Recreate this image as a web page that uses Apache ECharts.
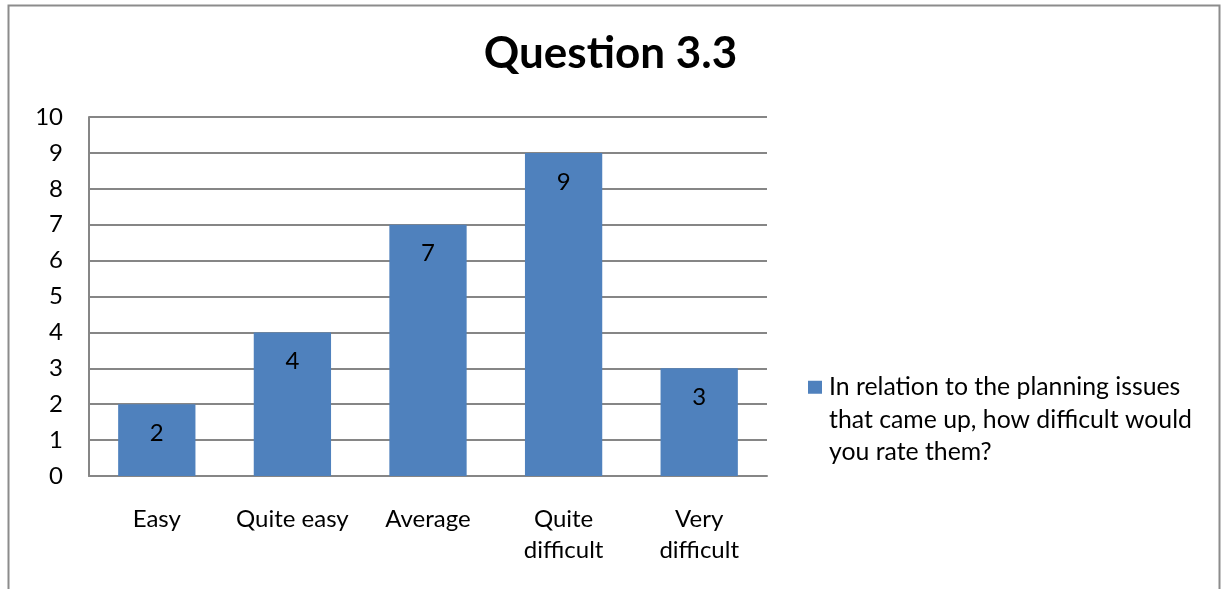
<!DOCTYPE html>
<html>
<head>
<meta charset="utf-8">
<script src="https://cdn.jsdelivr.net/npm/echarts@6/dist/echarts.min.js"></script>
<style>
  html, body { margin: 0; padding: 0; background: #fff; }
  #chart { width: 1221px; height: 589px; }
</style>
</head>
<body>
<div id="chart"></div>
<script>
const categories = ['Easy', 'Quite easy', 'Average', 'Quite\ndifficult', 'Very\ndifficult'];
const counts = [2, 4, 7, 9, 3];
const seriesName = 'In relation to the planning issues\nthat came up, how difficult would\nyou rate them?';
const titleText = 'Question 3.3';

const font = 'Lato, "Open Sans", sans-serif';
const chart = echarts.init(document.getElementById('chart'));

chart.setOption({
  animation: false,
  textStyle: { fontFamily: font },
  graphic: [
    {
      type: 'rect',
      shape: { x: 8.5, y: 5.5, width: 1211, height: 640 },
      style: { fill: 'none', stroke: '#8c8c8c', lineWidth: 2 },
      silent: true
    }
  ],
  title: {
    text: titleText,
    left: 'center',
    top: 27,
    textStyle: { fontFamily: font, fontSize: 44, fontWeight: 'bold', color: '#000' }
  },
  grid: { left: 89, right: 454, top: 117, bottom: 113 },
  legend: {
    orient: 'vertical',
    left: 808,
    top: 306,
    padding: 0,
    icon: 'rect',
    itemWidth: 14,
    itemHeight: 13,
    itemGap: 0,
    // two empty lines first so the icon sits level with the first text line
    formatter: name => '\n\n' + name,
    textStyle: {
      fontFamily: font,
      fontSize: 24.8,
      color: '#000',
      lineHeight: 32.5,
      padding: [0, 0, 0, 2]
    },
    data: [seriesName]
  },
  xAxis: {
    type: 'category',
    data: categories,
    axisLine: { show: true, lineStyle: { color: '#868686', width: 2 } },
    axisTick: { show: false },
    axisLabel: { color: '#000', fontSize: 24, margin: 28, lineHeight: 31, interval: 0 }
  },
  yAxis: {
    type: 'value',
    min: 0,
    max: 10,
    interval: 1,
    axisLine: { show: true, lineStyle: { color: '#868686', width: 2 } },
    axisTick: { show: false },
    splitLine: { lineStyle: { color: '#868686', width: 2 } },
    axisLabel: { color: '#000', fontSize: 24, margin: 26 }
  },
  series: [
    {
      name: seriesName,
      type: 'bar',
      data: counts,
      barWidth: '57%',
      itemStyle: { color: '#4F81BD' },
      label: {
        show: true,
        position: 'insideTop',
        distance: 17,
        color: '#000',
        fontSize: 24,
        fontFamily: font
      }
    }
  ]
});
</script>
</body>
</html>
